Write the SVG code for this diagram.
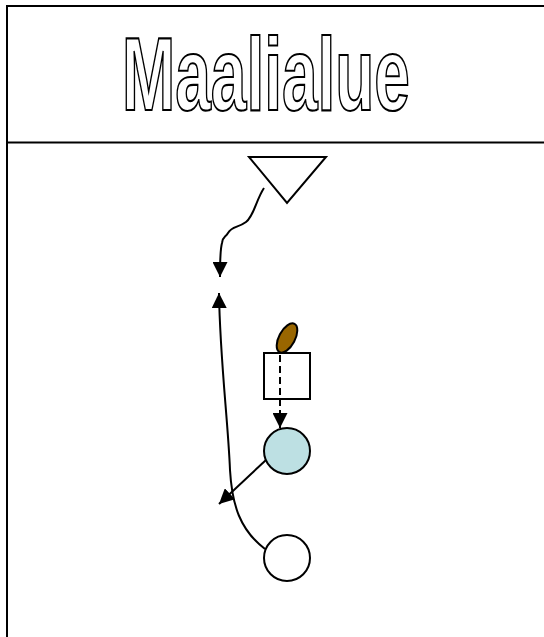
<svg xmlns="http://www.w3.org/2000/svg" width="544" height="637" viewBox="0 0 544 637">
<style>
.frame{fill:none;stroke:#000;stroke-width:2}
.shape{stroke:#000;stroke-width:2}
.line{fill:none;stroke:#000;stroke-width:2}
.title{font-family:"Liberation Sans",Arial,sans-serif;font-weight:bold;font-size:104px;fill:#fff;stroke:#000;stroke-width:1.8;vector-effect:non-scaling-stroke}
</style>
<defs>
<marker id="ahb" viewBox="0 0 10 10" refX="10" refY="5" markerWidth="15" markerHeight="15" markerUnits="userSpaceOnUse" orient="auto">
<path d="M0,0 L10,5 L0,10 z" fill="#000"/>
</marker>
</defs>
<g id="frame">
<path class="frame" d="M7,650 V6 H560"/>
<line class="frame" x1="7" y1="142.5" x2="560" y2="142.5"/>
</g>
<g id="title">
<text class="title" transform="translate(122 110) scale(0.615 1)" x="0" y="0">Maalialue</text>
</g>
<g id="triangle">
<polygon class="shape" fill="#fff" points="249,157 326,157 287,203"/>
</g>
<g id="ball">
<ellipse class="shape" fill="#996600" cx="287" cy="338" rx="8" ry="16" transform="rotate(28 287 338)"/>
</g>
<g id="square">
<rect class="shape" fill="#fff" x="264" y="353" width="46" height="46"/>
</g>
<g id="player-blue">
<circle class="shape" fill="#bde0e3" cx="287" cy="451" r="23"/>
</g>
<g id="player-white">
<circle class="shape" fill="#fff" cx="287" cy="558" r="23"/>
</g>
<g id="connectors">
<path class="line" d="M264,188 C256,200 254,216 246,222 C238,228 232,226 228,233 C225,238 223,236 222,243 C220,250 220,258 220,277" marker-end="url(#ahb)"/>
<path class="line" d="M265,549 C240,530 232,505 230,470 C228,420 220,360 219,293" marker-end="url(#ahb)"/>
<path class="line" d="M280,355 L280,428" stroke-dasharray="7,4" marker-end="url(#ahb)"/>
<path class="line" d="M266,460 L219,504" marker-end="url(#ahb)"/>
</g>
</svg>
